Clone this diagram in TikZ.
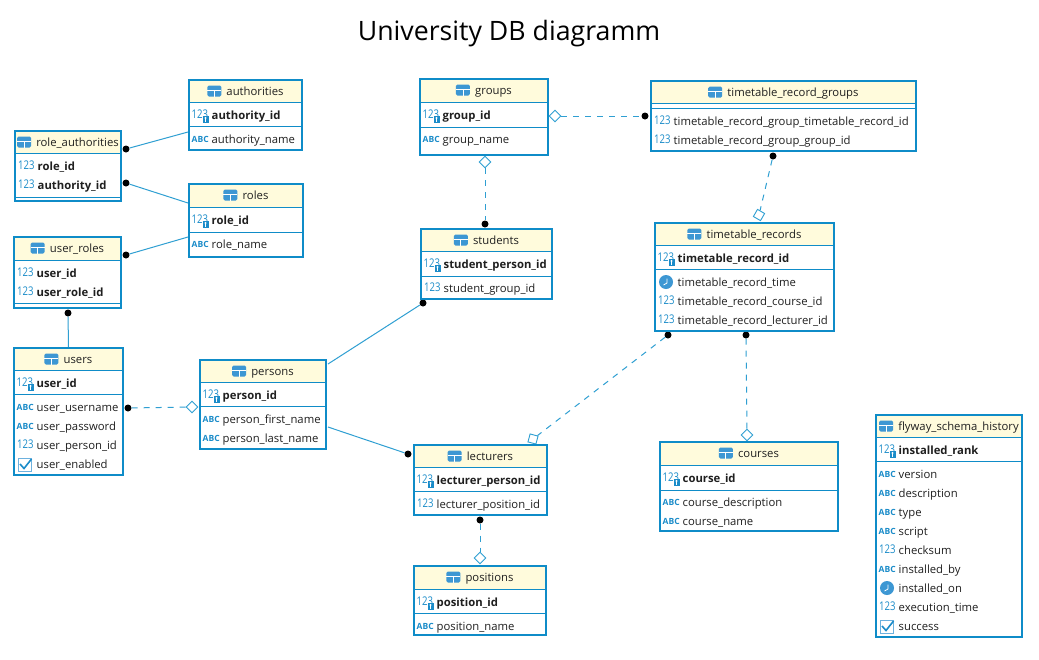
\documentclass[tikz,border=0pt]{standalone}
\usepackage{fontspec}
\setmainfont{Open Sans}
\usetikzlibrary{shapes.geometric,backgrounds}
\definecolor{bdr}{HTML}{0F8CC8}
\definecolor{hdr}{HTML}{FFFBDC}
\definecolor{conn}{HTML}{2F9FD2}
\definecolor{ico}{HTML}{1B8CC9}
\definecolor{icofill}{HTML}{3D97D3}
\newcount\itemnum
\newcommand{\nextitem}{\global\advance\itemnum by 1 }
\tikzset{
  tablebox/.style={draw=bdr,line width=2.4pt,fill=white,inner sep=0pt,outer sep=0pt,rectangle},
  rowtext/.style={anchor=base west,inner sep=0pt,font=\fontsize{11.3}{13}\selectfont,text=black!88},
  boldtext/.style={rowtext,font=\fontsize{11.3}{13}\selectfont\bfseries},
  titletext/.style={anchor=base,inner sep=0pt,font=\fontsize{11.3}{13}\selectfont,text=black!88},
  numicon/.style={anchor=base west,inner sep=0pt,xscale=.8,font=\fontsize{12}{13}\selectfont,text=ico},
  abcicon/.style={anchor=base west,inner sep=0pt,font=\fontsize{8.5}{9}\selectfont\bfseries,text=ico},
  dot/.style={circle,fill=black,inner sep=0pt,minimum size=7pt},
  dia/.style={diamond,draw=conn,fill=white,line width=.9pt,inner sep=0pt,minimum size=12pt,aspect=1},
  rel/.style={draw=conn,line width=1pt},
  reld/.style={rel,dash pattern=on 6pt off 6pt},
  sepline/.style={draw=bdr,line width=.9pt}
}
% table: name, x1, y1, x2, y2, header bottom, separator y, title
\newcommand{\tbl}[8]{%
  \def\curx{#2}\def\curxr{#4}%
  \node[tablebox,minimum width={#4-#2-2},minimum height={#5-#3-2}] (#1) at ({(#2+#4)/2},{(#3+#5)/2}) {};
  \fill[hdr] (#2+2,#3+2) rectangle (#4-2,#6);
  \draw[sepline] (#2+2,#6) -- (#4-2,#6);
  \draw[sepline] (#2+2,#7) -- (#4-2,#7);
  \node[titletext] (#1title) at ({(#2+#4)/2+9.5},{#3+16}) {#8};
  \tblicon{#1title}%
}
\newcommand{\tblicon}[1]{%
  \fill[icofill,rounded corners=1.5pt] ([shift={(-19,-9.5)}]#1.base west) rectangle ([shift={(-5,1.5)}]#1.base west);
  \draw[white,line width=.9pt] ([shift={(-19,-4.5)}]#1.base west) -- ([shift={(-5,-4.5)}]#1.base west)
     ([shift={(-12,-4.5)}]#1.base west) -- ([shift={(-12,1.5)}]#1.base west);
}
% rows: y of row centre, text
\newcommand{\rnum}[2]{\nextitem
  \node[numicon] (ic\the\itemnum) at (\curx+4,#1+3.5) {123};
  \node[rowtext] (tx\the\itemnum) at (\curx+23.5,#1+4) {#2};}
\newcommand{\rnumb}[2]{\nextitem
  \node[numicon] (ic\the\itemnum) at (\curx+4,#1+3.5) {123};
  \node[boldtext] (tx\the\itemnum) at (\curx+23.5,#1+4) {#2};}
\newcommand{\rkey}[2]{\nextitem
  \node[numicon] (ic\the\itemnum) at (\curx+3.5,#1+3.5) {123};
  \fill[ico] (\curx+14.5,#1+0.5) rectangle (\curx+20.5,#1+8);
  \fill[white] (\curx+17.5,#1+3) circle (1.2);
  \draw[white,line width=.6pt] (\curx+17.5,#1+3) -- (\curx+17.5,#1+6.5);
  \node[boldtext] (tx\the\itemnum) at (\curx+23.5,#1+4) {#2};}
\newcommand{\rabc}[2]{\nextitem
  \node[abcicon] (ic\the\itemnum) at (\curx+3.5,#1+3) {ABC};
  \node[rowtext] (tx\the\itemnum) at (\curx+23.5,#1+4) {#2};}
\newcommand{\rclock}[2]{\nextitem
  \fill[icofill] (\curx+12,#1) circle (7);
  \draw[white,line width=.8pt] (\curx+13,#1-3.5) -- (\curx+13,#1+1) -- (\curx+9.5,#1+3);
  \node[rowtext] (tx\the\itemnum) at (\curx+23.5,#1+4) {#2};}
\newcommand{\rcheck}[2]{\nextitem
  \draw[icofill!75,line width=.9pt,fill=white] (\curx+5,#1-6) rectangle (\curx+18,#1+7);
  \draw[ico,line width=1.6pt] (\curx+7,#1) -- (\curx+11,#1+4.5) -- (\curx+18.5,#1-5);
  \node[rowtext] (tx\the\itemnum) at (\curx+23.5,#1+4) {#2};}
\begin{document}
\begin{tikzpicture}[x=1pt,y=-1pt]
\useasboundingbox (0,0) rectangle (1039,659);
\node[inner sep=0pt,font=\fontsize{26.7}{32}\selectfont,text=black] (title) at (509,34) {University DB diagramm};

\tbl{authorities}{188}{79}{303}{151}{102}{126}{authorities}
\rkey{115}{authority\_id}
\rabc{139}{authority\_name}

\tbl{roleauth}{14}{130}{122}{202}{153}{197}{role\_authorities}
\rnumb{166}{role\_id}
\rnumb{185}{authority\_id}

\tbl{roles}{188}{183}{304}{258}{207}{232}{roles}
\rkey{220}{role\_id}
\rabc{244}{role\_name}

\tbl{userroles}{13}{236}{122}{309}{260}{303}{user\_roles}
\rnumb{273}{user\_id}
\rnumb{292}{user\_role\_id}

\tbl{users}{13}{347}{124}{476}{370}{394}{users}
\rkey{383}{user\_id}
\rabc{407}{user\_username}
\rabc{426}{user\_password}
\rnum{445}{user\_person\_id}
\rcheck{464}{user\_enabled}

\tbl{persons}{199}{359}{327}{450}{382}{406}{persons}
\rkey{395}{person\_id}
\rabc{419}{person\_first\_name}
\rabc{438}{person\_last\_name}

\tbl{groups}{419}{78}{549}{156}{102}{127}{groups}
\rkey{115}{group\_id}
\rabc{139}{group\_name}

\tbl{trg}{650}{80}{917}{152}{103}{108}{timetable\_record\_groups}
\rnum{121}{timetable\_record\_group\_timetable\_record\_id}
\rnum{140}{timetable\_record\_group\_group\_id}

\tbl{students}{420}{228}{553}{300}{251}{276}{students}
\rkey{264}{student\_person\_id}
\rnum{288}{student\_group\_id}

\tbl{records}{654}{222}{835}{332}{245}{269}{timetable\_records}
\rkey{258}{timetable\_record\_id}
\rclock{282}{timetable\_record\_time}
\rnum{301}{timetable\_record\_course\_id}
\rnum{320}{timetable\_record\_lecturer\_id}

\tbl{courses}{659}{441}{839}{532}{465}{490}{courses}
\rkey{478}{course\_id}
\rabc{502}{course\_description}
\rabc{521}{course\_name}

\tbl{lecturers}{413}{444}{548}{516}{467}{491}{lecturers}
\rkey{480}{lecturer\_person\_id}
\rnum{504}{lecturer\_position\_id}

\tbl{positions}{413}{565}{547}{636}{589}{613}{positions}
\rkey{602}{position\_id}
\rabc{626}{position\_name}

\tbl{flyway}{875}{414}{1023}{638}{437}{461}{flyway\_schema\_history}
\rkey{450}{installed\_rank}
\rabc{474}{version}
\rabc{493}{description}
\rabc{512}{type}
\rabc{531}{script}
\rnum{550}{checksum}
\rabc{569}{installed\_by}
\rclock{588}{installed\_on}
\rnum{607}{execution\_time}
\rcheck{626}{success}

\begin{scope}[on background layer]
\fill[white] (0,0) rectangle (1039,659);
\coordinate (e1) at (188,132);
\coordinate (e2) at (188,203);
\coordinate (e3) at (188,237);
\coordinate (e4) at (68.5,347);
\coordinate (e5) at (328,364);
\coordinate (e6) at (328,427);
\node[dot] (d1) at (126,149) {};
\node[dot] (d2) at (126,183) {};
\node[dot] (d3) at (126,255) {};
\node[dot] (d4) at (68,313) {};
\node[dot] (d5) at (128,408) {};
\node[dot] (d6) at (423,303) {};
\node[dot] (d7) at (408,454) {};
\node[dot] (d8) at (645,116) {};
\node[dot] (d9) at (485,224) {};
\node[dot] (d10) at (773,156) {};
\node[dot] (d11) at (668,335) {};
\node[dot] (d12) at (746,335) {};
\node[dot] (d13) at (480,520) {};
\node[dia] (m5) at (192,407) {};
\node[dia] (m8) at (555,116) {};
\node[dia] (m9) at (485,162) {};
\node[dia,rotate=15] (m10) at (759,215) {};
\node[dia,rotate=30] (m11) at (533,439) {};
\node[dia] (m12) at (747,435) {};
\node[dia] (m13) at (480,558) {};
\draw[rel] (d1) -- (e1);
\draw[rel] (d2) -- (e2);
\draw[rel] (d3) -- (e3);
\draw[rel] (d4) -- (e4);
\draw[rel] (d6) -- (e5);
\draw[rel] (d7) -- (e6);
\draw[reld] (d5) -- (m5);
\draw[reld] (m8) -- (d8);
\draw[reld] (m9) -- (d9);
\draw[reld] (d10) -- (m10);
\draw[reld] (d11) -- (m11);
\draw[reld] (d12) -- (m12);
\draw[reld] (d13) -- (m13);
\end{scope}
\end{tikzpicture}
\end{document}
